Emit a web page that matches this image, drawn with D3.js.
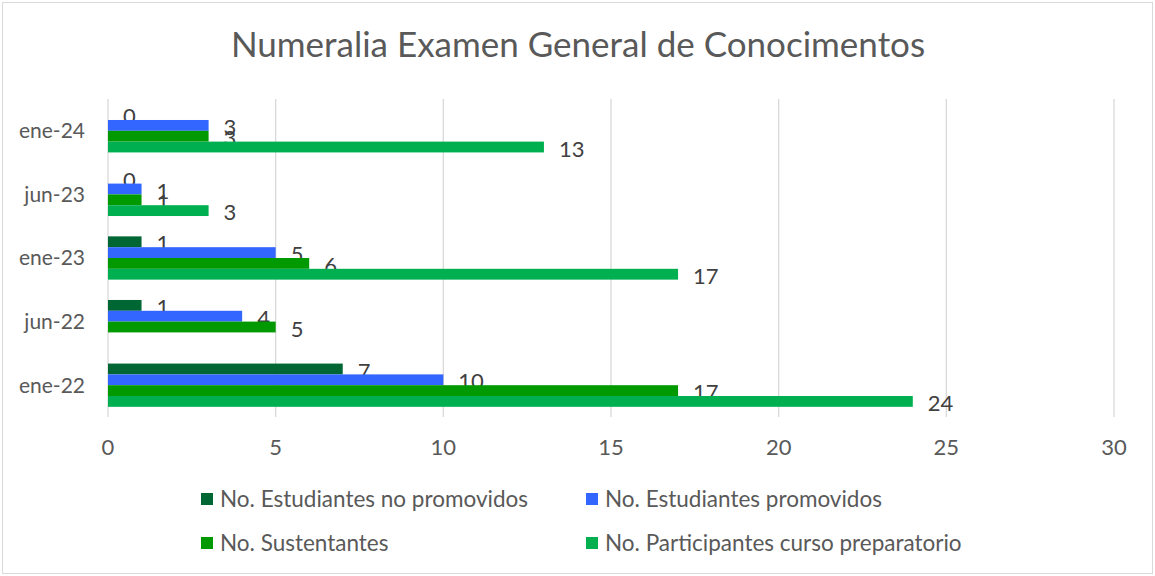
<!DOCTYPE html>
<html>
<head>
<meta charset="utf-8">
<script src="https://cdn.jsdelivr.net/npm/d3@7"></script>
<style>
  body { margin: 0; background: #fff; }
  text { font-family: Lato, "Open Sans", sans-serif; fill: #595959; }
</style>
</head>
<body>
<script>
// categories, top to bottom as drawn
let categories = ["ene-24", "jun-23", "ene-23", "jun-22", "ene-22"];
let seriesNames = [
  "No. Estudiantes no promovidos",
  "No. Estudiantes promovidos",
  "No. Sustentantes",
  "No. Participantes curso preparatorio"
];
let seriesColors = ["#006633", "#3366FF", "#009900", "#00B050"];
// values per category, same order as categories
let noPromovidos  = [0, 0, 1, 1, 7];
let promovidos    = [3, 1, 5, 4, 10];
let sustentantes  = [3, 1, 6, 5, 17];
let participantes = [13, 3, 17, null, 24];
let xTicks = [0, 5, 10, 15, 20, 25, 30];

let series = [noPromovidos, promovidos, sustentantes, participantes];

let width = 1155, height = 576;
let svg = d3.select("body").append("svg")
  .attr("width", width)
  .attr("height", height);

svg.append("rect")
  .attr("x", 2.5).attr("y", 2.5)
  .attr("width", width - 5).attr("height", height - 5)
  .attr("fill", "#fff")
  .attr("stroke", "#D9D9D9");

svg.append("text")
  .attr("x", 578).attr("y", 57)
  .attr("text-anchor", "middle")
  .style("font-size", "35px")
  .text("Numeralia Examen General de Conocimentos");

let x = d3.scaleLinear().domain([0, 30]).range([108, 1114]);
let y0 = d3.scaleBand().domain(categories).range([99, 417])
  .paddingInner(0.32).paddingOuter(0.16);
let y1 = d3.scaleBand().domain(d3.range(series.length)).range([0, y0.bandwidth()]);

// gridlines
svg.append("g").selectAll("line")
  .data(xTicks)
  .join("line")
  .attr("x1", d => x(d)).attr("x2", d => x(d))
  .attr("y1", 99).attr("y2", 417)
  .attr("stroke", "#D9D9D9")
  .attr("stroke-width", 1.3);

// x tick labels
svg.append("g").selectAll("text")
  .data(xTicks)
  .join("text")
  .attr("x", d => x(d)).attr("y", 455)
  .attr("text-anchor", "middle")
  .style("font-size", "22px")
  .text(d => d);

// category labels
svg.append("g").selectAll("text")
  .data(categories)
  .join("text")
  .attr("x", 85)
  .attr("y", d => y0(d) + y0.bandwidth() / 2)
  .attr("dy", "0.35em")
  .attr("text-anchor", "end")
  .style("font-size", "21px")
  .text(d => d);

// bars and labels
for (let s = 0; s < series.length; s++) {
  let rows = categories.map((c, i) => ({ c: c, v: series[s][i] }))
    .filter(d => d.v !== null);
  svg.append("g").selectAll("rect")
    .data(rows)
    .join("rect")
    .attr("x", x(0))
    .attr("y", d => y0(d.c) + y1(s))
    .attr("width", d => x(d.v) - x(0))
    .attr("height", y1.bandwidth())
    .attr("fill", seriesColors[s]);
  svg.append("g").selectAll("text")
    .data(rows)
    .join("text")
    .attr("x", d => x(d.v) + 15)
    .attr("y", d => y0(d.c) + y1(s) + y1.bandwidth() / 2 + 2)
    .attr("dy", "0.35em")
    .style("font-size", "22px")
    .style("fill", "#404040")
    .text(d => d.v);
}

// legend
let legendPos = [[201, 507], [586, 507], [201, 551], [586, 551]];
let legend = svg.append("g").selectAll("g")
  .data(seriesNames)
  .join("g")
  .attr("transform", (d, i) => "translate(" + legendPos[i][0] + "," + legendPos[i][1] + ")");
legend.append("rect")
  .attr("x", 0).attr("y", -14)
  .attr("width", 12).attr("height", 12)
  .attr("fill", (d, i) => seriesColors[i]);
legend.append("text")
  .attr("x", 19).attr("y", 0)
  .style("font-size", "22.5px")
  .text(d => d);
</script>
</body>
</html>
